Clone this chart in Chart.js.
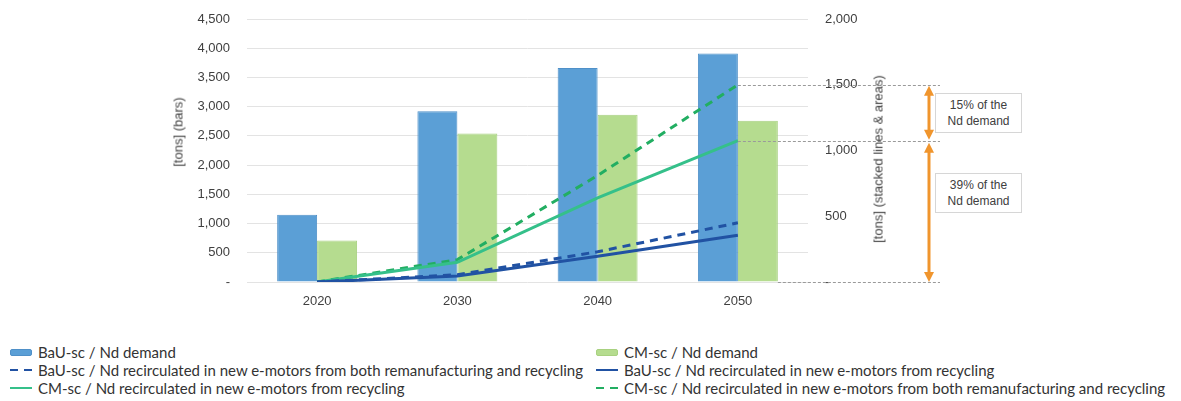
<!DOCTYPE html>
<html>
<head>
<meta charset="utf-8">
<script src="https://cdn.jsdelivr.net/npm/chart.js@4.4.1/dist/chart.umd.min.js"></script>
<style>
  body { margin: 0; background: #fff; }
  #wrap { position: relative; width: 1181px; height: 401px; overflow: hidden; font-family: "Liberation Sans", Arial, sans-serif; }
  #chart { position: absolute; left: 0; top: 0; }
  .ytitle { position: absolute; font-size: 13px; color: #404040; white-space: nowrap; transform: translate(-50%, -50%) rotate(-90deg); }
  .note { position: absolute; width: 85px; height: 38px; border: 1px solid #d6d6d6; background: #fff;
          font-size: 12px; line-height: 16px; color: #404040; text-align: center; display: flex; align-items: center; justify-content: center; }
  .leg { position: absolute; height: 18px; display: flex; align-items: center; font-family: Lato, "Open Sans", sans-serif; font-size: 15px; color: #333; white-space: nowrap; }
  .leg .mk { width: 22px; margin-right: 6px; position: relative; height: 10px; }
</style>
</head>
<body>
<div id="wrap">
  <canvas id="chart" width="1181" height="330"></canvas>
  <div class="ytitle" style="left:178px; top:132px;">[tons] (bars)</div>
  <div class="ytitle" style="left:878px; top:159px;">[tons] (stacked lines &amp; areas)</div>
  <div class="note" style="left:935px; top:93px;">15% of the<br>Nd demand</div>
  <div class="note" style="left:935px; top:173px;">39% of the<br>Nd demand</div>
  <div id="legend"></div>
</div>
<script>
// ================= DATA =================
const years = ["2020", "2030", "2040", "2050"];
const bauDemand = [1150, 2920, 3660, 3910];
const cmDemand = [710, 2540, 2860, 2760];
const bauBoth = [0, 55, 230, 450];
const bauRec = [0, 45, 195, 355];
const cmRec = [0, 150, 640, 1075];
const cmBoth = [0, 170, 810, 1500];
const leftTicks = [0, 500, 1000, 1500, 2000, 2500, 3000, 3500, 4000, 4500];
const rightTicks = [0, 500, 1000, 1500, 2000];

const BLUE = "#5b9fd6", GREEN_BAR = "#b5dc8f";
const BAU_LINE = "#2152a3", CM_LINE = "#35c08a", CM_DASH = "#22ae62";
const ORANGE = "#f0952d";

const fmt = v => v === 0 ? "-" : v.toLocaleString("en-US");

// ================= ANNOTATIONS (dotted refs + arrows) =================
const notesPlugin = {
  id: "notes",
  afterDatasetsDraw(chart) {
    const { ctx, scales } = chart;
    const y1 = scales.y1, x = scales.x;
    const xEnd = x.getPixelForValue(3);
    const yTop = y1.getPixelForValue(cmBoth[3]);
    const yMid = y1.getPixelForValue(cmRec[3]);
    const yZero = y1.getPixelForValue(0);
    ctx.save();
    ctx.strokeStyle = "#9a9a9a";
    ctx.lineWidth = 1;
    ctx.setLineDash([3, 2]);
    [[xEnd, yTop], [xEnd, yMid], [xEnd + 40, yZero]].forEach(([sx, sy]) => {
      ctx.beginPath();
      ctx.moveTo(sx, Math.round(sy) + 0.5);
      ctx.lineTo(940, Math.round(sy) + 0.5);
      ctx.stroke();
    });
    ctx.setLineDash([]);

    // double-headed arrows
    const ax = 929;
    const arrow = (ya, yb) => {
      ctx.strokeStyle = ORANGE;
      ctx.fillStyle = ORANGE;
      ctx.lineWidth = 3;
      ctx.beginPath();
      ctx.moveTo(ax, ya + 8);
      ctx.lineTo(ax, yb - 8);
      ctx.stroke();
      ctx.beginPath();
      ctx.moveTo(ax, ya); ctx.lineTo(ax - 5, ya + 10); ctx.lineTo(ax + 5, ya + 10); ctx.closePath();
      ctx.fill();
      ctx.beginPath();
      ctx.moveTo(ax, yb); ctx.lineTo(ax - 5, yb - 10); ctx.lineTo(ax + 5, yb - 10); ctx.closePath();
      ctx.fill();
    };
    arrow(yTop + 1, yMid - 1);
    arrow(yMid + 2, yZero);
    ctx.restore();
  }
};

// ================= CHART =================
const lineDs = (label, data, color, dashed) => ({
  type: "line",
  label,
  data,
  yAxisID: "y1",
  borderColor: color,
  backgroundColor: color,
  borderWidth: 3,
  borderDash: dashed ? [8, 6] : [],
  pointRadius: 0,
  tension: 0,
  order: 0
});

const tickFont = { family: "Liberation Sans", size: 13 };

new Chart(document.getElementById("chart"), {
  type: "bar",
  data: {
    labels: years,
    datasets: [
      { label: "BaU-sc / Nd demand", data: bauDemand, backgroundColor: BLUE, borderColor: "#4f90c8", borderWidth: 1, yAxisID: "y", order: 1 },
      { label: "CM-sc / Nd demand", data: cmDemand, backgroundColor: GREEN_BAR, borderColor: "#a8d180", borderWidth: 1, yAxisID: "y", order: 1 },
      lineDs("BaU-sc / Nd recirculated in new e-motors from both remanufacturing and recycling", bauBoth, BAU_LINE, true),
      lineDs("BaU-sc / Nd recirculated in new e-motors from recycling", bauRec, BAU_LINE, false),
      lineDs("CM-sc / Nd recirculated in new e-motors from recycling", cmRec, CM_LINE, false),
      lineDs("CM-sc / Nd recirculated in new e-motors from both remanufacturing and recycling", cmBoth, CM_DASH, true)
    ]
  },
  options: {
    responsive: false,
    devicePixelRatio: 1,
    animation: false,
    layout: { padding: { top: 19, left: 0, right: 0, bottom: 0 } },
    datasets: { bar: { categoryPercentage: 0.57, barPercentage: 1 } },
    plugins: { legend: { display: false }, tooltip: { enabled: false } },
    scales: {
      x: {
        grid: { display: false },
        border: { display: false },
        ticks: { color: "#404040", font: tickFont, padding: 4 },
        afterFit(s) { s.height = 48; s.paddingLeft = 0; s.paddingRight = 0; }
      },
      y: {
        position: "left",
        min: 0, max: 4500,
        afterBuildTicks(s) { s.ticks = leftTicks.map(v => ({ value: v })); },
        grid: { color: "#e3e3e3", drawTicks: false },
        border: { display: false },
        ticks: { color: "#404040", font: tickFont, padding: 17, callback: fmt },
        afterFit(s) { s.width = 247; s.paddingTop = 0; s.paddingBottom = 0; }
      },
      y1: {
        position: "right",
        min: 0, max: 2000,
        afterBuildTicks(s) { s.ticks = rightTicks.map(v => ({ value: v })); },
        grid: { display: false, drawTicks: false },
        border: { display: false },
        ticks: { color: "#404040", font: tickFont, padding: 17, callback: fmt },
        afterFit(s) { s.width = 1181 - 808; s.paddingTop = 0; s.paddingBottom = 0; }
      }
    }
  },
  plugins: [notesPlugin]
});

// ================= LEGEND =================
const legendItems = [
  { text: "BaU-sc / Nd demand", kind: "bar", color: BLUE, x: 10, y: 352 },
  { text: "BaU-sc / Nd recirculated in new e-motors from both remanufacturing and recycling", kind: "dash", color: BAU_LINE, x: 10, y: 370 },
  { text: "CM-sc / Nd recirculated in new e-motors from recycling", kind: "line", color: CM_LINE, x: 10, y: 388 },
  { text: "CM-sc / Nd demand", kind: "bar", color: GREEN_BAR, x: 596, y: 352 },
  { text: "BaU-sc / Nd recirculated in new e-motors from recycling", kind: "line", color: BAU_LINE, x: 596, y: 370 },
  { text: "CM-sc / Nd recirculated in new e-motors from both remanufacturing and recycling", kind: "dash", color: CM_DASH, x: 596, y: 388 }
];
const legend = document.getElementById("legend");
legendItems.forEach(it => {
  const row = document.createElement("div");
  row.className = "leg";
  row.style.left = it.x + "px";
  row.style.top = (it.y - 9) + "px";
  let mk;
  if (it.kind === "bar") {
    mk = `<div class="mk"><div style="position:absolute;left:0;top:2px;width:20px;height:5px;border-radius:2px;background:${it.color};border:1px solid ${it.color === BLUE ? '#4f90c8' : '#a8d180'}"></div></div>`;
  } else if (it.kind === "line") {
    mk = `<div class="mk"><div style="position:absolute;left:0;top:4px;width:22px;height:2px;background:${it.color}"></div></div>`;
  } else {
    mk = `<div class="mk"><div style="position:absolute;left:0;top:4px;width:8px;height:2px;background:${it.color}"></div><div style="position:absolute;left:14px;top:4px;width:8px;height:2px;background:${it.color}"></div></div>`;
  }
  row.innerHTML = mk + `<span>${it.text}</span>`;
  legend.appendChild(row);
});
</script>
</body>
</html>
